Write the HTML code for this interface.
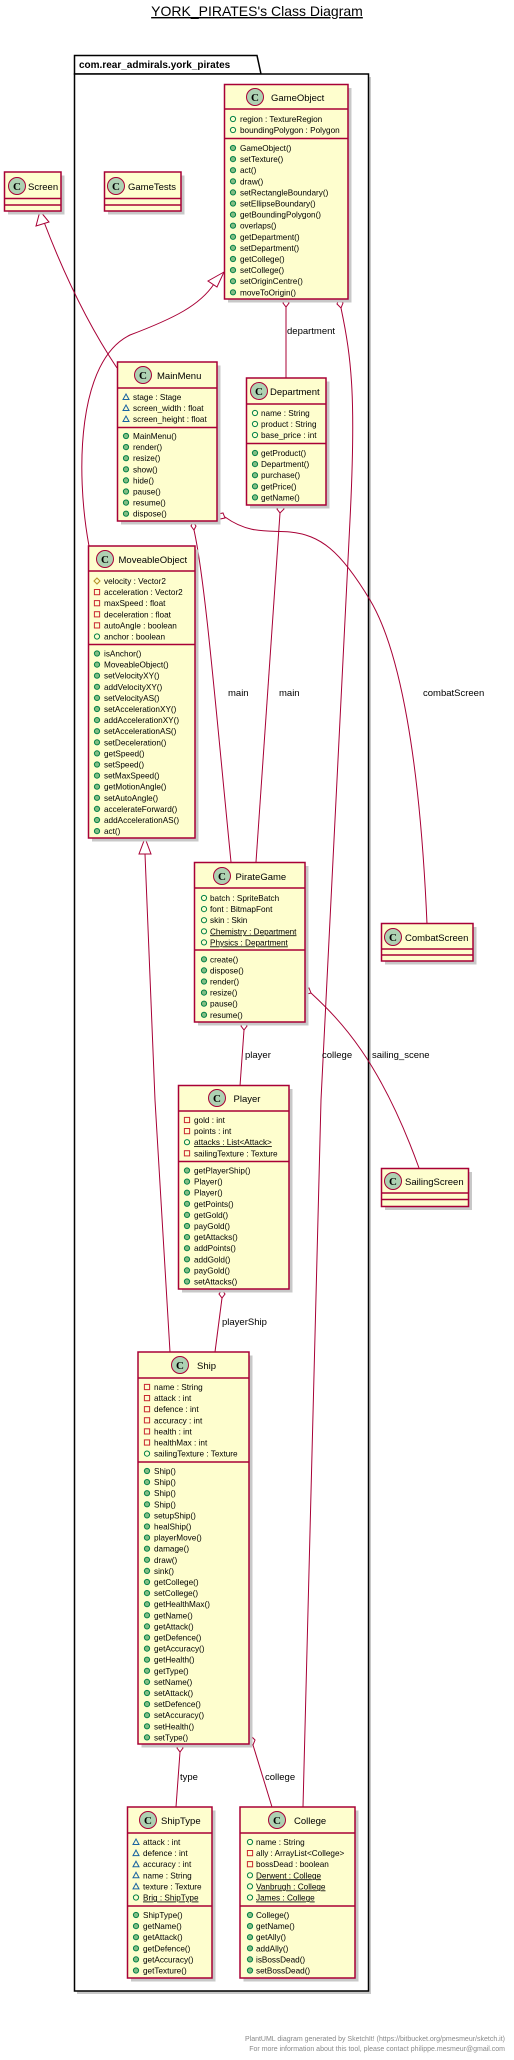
<!DOCTYPE html>
<html><head><meta charset="utf-8"><style>
html,body{margin:0;padding:0;background:#fff;}
svg{display:block;}
text{font-family:"Liberation Sans",sans-serif;fill:#000;}
.m{font-size:8.2px;}
.n{font-size:9.5px;}
.l{font-size:9.5px;}
.u{text-decoration:underline;}
.b{fill:#FEFECE;stroke:#A80036;stroke-width:1.5;}
.s{fill:#c8c8c8;}
.d{stroke:#A80036;stroke-width:1.5;}
.e{fill:none;stroke:#A80036;stroke-width:1;}
.ci{fill:#ADD1B2;stroke:#A80036;stroke-width:1;}
.ct{font-family:"Liberation Serif",serif;font-weight:bold;font-size:11px;}
</style></head><body>
<svg width="514" height="2060" viewBox="0 0 514 2060" xmlns="http://www.w3.org/2000/svg">
<defs>
<circle id="m" cx="0" cy="0" r="2.6" fill="#84BE84" stroke="#038048" stroke-width="1"/>
<circle id="pu" cx="0" cy="0" r="2.6" fill="none" stroke="#038048" stroke-width="1"/>
<rect id="pr" x="-2.6" y="-2.6" width="5.2" height="5.2" fill="none" stroke="#C82930" stroke-width="1"/>
<path id="pk" d="M0,-3 L3,2.5 L-3,2.5 Z" fill="none" stroke="#1963A0" stroke-width="1"/>
<path id="po" d="M0,-3 L3,0 L0,3 L-3,0 Z" fill="none" stroke="#B38D22" stroke-width="1"/>
</defs>

<text x="257" y="16" text-anchor="middle" style="font-size:14px;text-decoration:underline;">YORK_PIRATES's Class Diagram</text>

<!-- package -->
<rect x="77" y="77" width="294" height="1917" class="s"/>
<path d="M74.5,74 L74.5,55.5 L257,55.5 L261,74 Z" fill="#fff" stroke="#000" stroke-width="1.5"/>
<rect x="74.5" y="74" width="294" height="1917" fill="#fff" stroke="#000" stroke-width="1.5"/>
<text x="79" y="68" style="font-size:10px;font-weight:bold;">com.rear_admirals.york_pirates</text>

<!-- edges -->
<path class="e" d="M117,368 C95,335 70,290 44,222"/>
<path d="M40,211 L36,226 L49,222 Z" fill="#fff" stroke="#A80036"/>
<path class="e" d="M89,546 C75,470 78,360 130,335 C175,318 200,305 214,284"/>
<path d="M224,272 L208,281 L217,287 Z" fill="#fff" stroke="#A80036"/>
<path class="e" d="M286,307 L286,378"/>
<path d="M286,299 L289,303 L286,307 L283,303 Z" fill="#fff" stroke="#A80036"/>
<text x="287" y="334" class="l">department</text>
<path class="e" d="M341,308 C352,360 356,400 350,520 L321,1100 L303,1807"/>
<path d="M339,299 L343,303 L341,308 L337,304 Z" fill="#fff" stroke="#A80036"/>
<text x="322" y="1058" class="l">college</text>
<path class="e" d="M194,530 C205,580 215,700 231,862"/>
<path d="M193,522 L196,526 L194,530 L191,526 Z" fill="#fff" stroke="#A80036"/>
<text x="228" y="696" class="l">main</text>
<path class="e" d="M280,513 L256,862"/>
<path d="M281,505 L284,509 L280,513 L277,509 Z" fill="#fff" stroke="#A80036"/>
<text x="279" y="696" class="l">main</text>
<path class="e" d="M225,517 C250,535 270,530 290,532 C320,535 340,550 370,600 C400,650 420,760 427,924"/>
<path d="M218,514 L223,513 L225,518 L220,519 Z" fill="#fff" stroke="#A80036"/>
<text x="423" y="696" class="l">combatScreen</text>
<path class="e" d="M311,993 C340,1020 380,1060 419,1168"/>
<path d="M305,989 L309,988 L311,993 L307,994 Z" fill="#fff" stroke="#A80036"/>
<text x="372" y="1058" class="l">sailing_scene</text>
<path class="e" d="M244,1030 L240,1086"/>
<path d="M244,1022 L247,1026 L244,1030 L241,1026 Z" fill="#fff" stroke="#A80036"/>
<text x="245" y="1058" class="l">player</text>
<path class="e" d="M145,854 L155,1100 L170,1352"/>
<path d="M145,838 L139,854 L151,854 Z" fill="#fff" stroke="#A80036"/>
<path class="e" d="M222,1298 L215,1352"/>
<path d="M222,1290 L225,1294 L222,1298 L219,1294 Z" fill="#fff" stroke="#A80036"/>
<text x="222" y="1325" class="l">playerShip</text>
<path class="e" d="M180,1752 L176,1807"/>
<path d="M180,1744 L183,1748 L180,1752 L177,1748 Z" fill="#fff" stroke="#A80036"/>
<text x="180" y="1780" class="l">type</text>
<path class="e" d="M253,1745 L272,1807"/>
<path d="M251,1736 L255,1740 L253,1745 L249,1741 Z" fill="#fff" stroke="#A80036"/>
<text x="265" y="1780" class="l">college</text>

<!-- GameObject -->
<rect x="228" y="88" width="123.5" height="214.5" class="s"/>
<rect x="224.5" y="84.5" width="123.5" height="214.5" class="b"/>
<line x1="224.5" y1="109" x2="348" y2="109" class="d"/><line x1="224.5" y1="138.5" x2="348" y2="138.5" class="d"/>
<circle cx="255" cy="97" r="8.5" class="ci"/><text x="255" y="101" text-anchor="middle" class="ct">C</text>
<text x="271" y="101" class="n">GameObject</text>
<g class="m">
<use href="#pu" x="233" y="119"/><text x="240" y="122">region : TextureRegion</text>
<use href="#pu" x="233" y="130"/><text x="240" y="133">boundingPolygon : Polygon</text>
<use href="#m" x="233" y="148"/><text x="240" y="151">GameObject()</text>
<use href="#m" x="233" y="159.1"/><text x="240" y="162.1">setTexture()</text>
<use href="#m" x="233" y="170.2"/><text x="240" y="173.2">act()</text>
<use href="#m" x="233" y="181.3"/><text x="240" y="184.3">draw()</text>
<use href="#m" x="233" y="192.4"/><text x="240" y="195.4">setRectangleBoundary()</text>
<use href="#m" x="233" y="203.5"/><text x="240" y="206.5">setEllipseBoundary()</text>
<use href="#m" x="233" y="214.6"/><text x="240" y="217.6">getBoundingPolygon()</text>
<use href="#m" x="233" y="225.7"/><text x="240" y="228.7">overlaps()</text>
<use href="#m" x="233" y="236.8"/><text x="240" y="239.8">getDepartment()</text>
<use href="#m" x="233" y="247.9"/><text x="240" y="250.9">setDepartment()</text>
<use href="#m" x="233" y="259"/><text x="240" y="262">getCollege()</text>
<use href="#m" x="233" y="270.1"/><text x="240" y="273.1">setCollege()</text>
<use href="#m" x="233" y="281.2"/><text x="240" y="284.2">setOriginCentre()</text>
<use href="#m" x="233" y="292.3"/><text x="240" y="295.3">moveToOrigin()</text>
</g>

<!-- Screen -->
<rect x="8" y="175.5" width="56.5" height="39" class="s"/>
<rect x="4.5" y="172" width="56.5" height="39" class="b"/>
<line x1="4.5" y1="198.5" x2="61" y2="198.5" class="d"/><line x1="4.5" y1="205" x2="61" y2="205" class="d"/>
<circle cx="17" cy="186" r="8.5" class="ci"/><text x="17" y="190" text-anchor="middle" class="ct">C</text>
<text x="28" y="190" class="n">Screen</text>

<!-- GameTests -->
<rect x="108" y="175.5" width="76.5" height="39" class="s"/>
<rect x="104.5" y="172" width="76.5" height="39" class="b"/>
<line x1="104.5" y1="198.5" x2="181" y2="198.5" class="d"/><line x1="104.5" y1="205" x2="181" y2="205" class="d"/>
<circle cx="116" cy="186" r="8.5" class="ci"/><text x="116" y="190" text-anchor="middle" class="ct">C</text>
<text x="128" y="190" class="n">GameTests</text>

<!-- MainMenu -->
<rect x="121" y="365.5" width="99.5" height="159" class="s"/>
<rect x="117.5" y="362" width="99.5" height="159" class="b"/>
<line x1="117.5" y1="388" x2="217" y2="388" class="d"/><line x1="117.5" y1="427.5" x2="217" y2="427.5" class="d"/>
<circle cx="143" cy="375" r="8.5" class="ci"/><text x="143" y="379" text-anchor="middle" class="ct">C</text>
<text x="157" y="379" class="n">MainMenu</text>
<g class="m">
<use href="#pk" x="126" y="397"/><text x="133" y="400">stage : Stage</text>
<use href="#pk" x="126" y="408"/><text x="133" y="411">screen_width : float</text>
<use href="#pk" x="126" y="419"/><text x="133" y="422">screen_height : float</text>
<use href="#m" x="126" y="436"/><text x="133" y="439">MainMenu()</text>
<use href="#m" x="126" y="447.1"/><text x="133" y="450.1">render()</text>
<use href="#m" x="126" y="458.2"/><text x="133" y="461.2">resize()</text>
<use href="#m" x="126" y="469.3"/><text x="133" y="472.3">show()</text>
<use href="#m" x="126" y="480.4"/><text x="133" y="483.4">hide()</text>
<use href="#m" x="126" y="491.5"/><text x="133" y="494.5">pause()</text>
<use href="#m" x="126" y="502.6"/><text x="133" y="505.6">resume()</text>
<use href="#m" x="126" y="513.7"/><text x="133" y="516.7">dispose()</text>
</g>

<!-- Department -->
<rect x="250" y="381.5" width="79.5" height="127" class="s"/>
<rect x="246.5" y="378" width="79.5" height="127" class="b"/>
<line x1="246.5" y1="404" x2="326" y2="404" class="d"/><line x1="246.5" y1="443.5" x2="326" y2="443.5" class="d"/>
<circle cx="259" cy="391" r="8.5" class="ci"/><text x="259" y="395" text-anchor="middle" class="ct">C</text>
<text x="270" y="395" class="n">Department</text>
<g class="m">
<use href="#pu" x="255" y="413"/><text x="261" y="416">name : String</text>
<use href="#pu" x="255" y="424"/><text x="261" y="427">product : String</text>
<use href="#pu" x="255" y="435"/><text x="261" y="438">base_price : int</text>
<use href="#m" x="255" y="453"/><text x="261" y="456">getProduct()</text>
<use href="#m" x="255" y="464.1"/><text x="261" y="467.1">Department()</text>
<use href="#m" x="255" y="475.2"/><text x="261" y="478.2">purchase()</text>
<use href="#m" x="255" y="486.3"/><text x="261" y="489.3">getPrice()</text>
<use href="#m" x="255" y="497.4"/><text x="261" y="500.4">getName()</text>
</g>

<!-- MoveableObject -->
<rect x="92" y="549.5" width="106.5" height="292" class="s"/>
<rect x="88.5" y="546" width="106.5" height="292" class="b"/>
<line x1="88.5" y1="571" x2="195" y2="571" class="d"/><line x1="88.5" y1="644.5" x2="195" y2="644.5" class="d"/>
<circle cx="105" cy="559" r="8.5" class="ci"/><text x="105" y="563" text-anchor="middle" class="ct">C</text>
<text x="118.5" y="563" class="n">MoveableObject</text>
<g class="m">
<use href="#po" x="97" y="581"/><text x="104" y="584">velocity : Vector2</text>
<use href="#pr" x="97" y="592.1"/><text x="104" y="595.1">acceleration : Vector2</text>
<use href="#pr" x="97" y="603.2"/><text x="104" y="606.2">maxSpeed : float</text>
<use href="#pr" x="97" y="614.3"/><text x="104" y="617.3">deceleration : float</text>
<use href="#pr" x="97" y="625.4"/><text x="104" y="628.4">autoAngle : boolean</text>
<use href="#pu" x="97" y="636.5"/><text x="104" y="639.5">anchor : boolean</text>
<use href="#m" x="97" y="653.5"/><text x="104" y="656.5">isAnchor()</text>
<use href="#m" x="97" y="664.6"/><text x="104" y="667.6">MoveableObject()</text>
<use href="#m" x="97" y="675.7"/><text x="104" y="678.7">setVelocityXY()</text>
<use href="#m" x="97" y="686.8"/><text x="104" y="689.8">addVelocityXY()</text>
<use href="#m" x="97" y="697.9"/><text x="104" y="700.9">setVelocityAS()</text>
<use href="#m" x="97" y="709"/><text x="104" y="712">setAccelerationXY()</text>
<use href="#m" x="97" y="720.1"/><text x="104" y="723.1">addAccelerationXY()</text>
<use href="#m" x="97" y="731.2"/><text x="104" y="734.2">setAccelerationAS()</text>
<use href="#m" x="97" y="742.3"/><text x="104" y="745.3">setDeceleration()</text>
<use href="#m" x="97" y="753.4"/><text x="104" y="756.4">getSpeed()</text>
<use href="#m" x="97" y="764.5"/><text x="104" y="767.5">setSpeed()</text>
<use href="#m" x="97" y="775.6"/><text x="104" y="778.6">setMaxSpeed()</text>
<use href="#m" x="97" y="786.7"/><text x="104" y="789.7">getMotionAngle()</text>
<use href="#m" x="97" y="797.8"/><text x="104" y="800.8">setAutoAngle()</text>
<use href="#m" x="97" y="808.9"/><text x="104" y="811.9">accelerateForward()</text>
<use href="#m" x="97" y="820"/><text x="104" y="823">addAccelerationAS()</text>
<use href="#m" x="97" y="831.1"/><text x="104" y="834.1">act()</text>
</g>

<!-- PirateGame -->
<rect x="198" y="866" width="110.5" height="159.5" class="s"/>
<rect x="194.5" y="862.5" width="110.5" height="159.5" class="b"/>
<line x1="194.5" y1="888" x2="305" y2="888" class="d"/><line x1="194.5" y1="950" x2="305" y2="950" class="d"/>
<circle cx="222" cy="876" r="8.5" class="ci"/><text x="222" y="880" text-anchor="middle" class="ct">C</text>
<text x="235.5" y="880" class="n">PirateGame</text>
<g class="m">
<use href="#pu" x="204" y="898"/><text x="210" y="901">batch : SpriteBatch</text>
<use href="#pu" x="204" y="909.1"/><text x="210" y="912.1">font : BitmapFont</text>
<use href="#pu" x="204" y="920.2"/><text x="210" y="923.2">skin : Skin</text>
<use href="#pu" x="204" y="931.3"/><text x="210" y="934.3" class="u">Chemistry : Department</text>
<use href="#pu" x="204" y="942.4"/><text x="210" y="945.4" class="u">Physics : Department</text>
<use href="#m" x="204" y="959.3"/><text x="210" y="962.3">create()</text>
<use href="#m" x="204" y="970.4"/><text x="210" y="973.4">dispose()</text>
<use href="#m" x="204" y="981.5"/><text x="210" y="984.5">render()</text>
<use href="#m" x="204" y="992.6"/><text x="210" y="995.6">resize()</text>
<use href="#m" x="204" y="1003.7"/><text x="210" y="1006.7">pause()</text>
<use href="#m" x="204" y="1014.8"/><text x="210" y="1017.8">resume()</text>
</g>

<!-- CombatScreen -->
<rect x="385" y="927" width="91.5" height="37.5" class="s"/>
<rect x="381.5" y="923.5" width="91.5" height="37.5" class="b"/>
<line x1="381.5" y1="949" x2="473" y2="949" class="d"/><line x1="381.5" y1="955" x2="473" y2="955" class="d"/>
<circle cx="393" cy="937" r="8.5" class="ci"/><text x="393" y="941" text-anchor="middle" class="ct">C</text>
<text x="405" y="941" class="n">CombatScreen</text>

<!-- SailingScreen -->
<rect x="385" y="1172" width="87" height="38" class="s"/>
<rect x="381.5" y="1168.5" width="87" height="38" class="b"/>
<line x1="381.5" y1="1193" x2="468.5" y2="1193" class="d"/><line x1="381.5" y1="1199.5" x2="468.5" y2="1199.5" class="d"/>
<circle cx="393" cy="1181" r="8.5" class="ci"/><text x="393" y="1185" text-anchor="middle" class="ct">C</text>
<text x="405" y="1185" class="n">SailingScreen</text>

<!-- Player -->
<rect x="182" y="1089" width="110.5" height="203.5" class="s"/>
<rect x="178.5" y="1085.5" width="110.5" height="203.5" class="b"/>
<line x1="178.5" y1="1111" x2="289" y2="1111" class="d"/><line x1="178.5" y1="1161.5" x2="289" y2="1161.5" class="d"/>
<circle cx="217" cy="1098" r="8.5" class="ci"/><text x="217" y="1102" text-anchor="middle" class="ct">C</text>
<text x="233.5" y="1102" class="n">Player</text>
<g class="m">
<use href="#pr" x="187" y="1120"/><text x="194" y="1123">gold : int</text>
<use href="#pr" x="187" y="1131.1"/><text x="194" y="1134.1">points : int</text>
<use href="#pu" x="187" y="1142.2"/><text x="194" y="1145.2" class="u">attacks : List&lt;Attack&gt;</text>
<use href="#pr" x="187" y="1153.3"/><text x="194" y="1156.3">sailingTexture : Texture</text>
<use href="#m" x="187" y="1170.5"/><text x="194" y="1173.5">getPlayerShip()</text>
<use href="#m" x="187" y="1181.6"/><text x="194" y="1184.6">Player()</text>
<use href="#m" x="187" y="1192.7"/><text x="194" y="1195.7">Player()</text>
<use href="#m" x="187" y="1203.8"/><text x="194" y="1206.8">getPoints()</text>
<use href="#m" x="187" y="1214.9"/><text x="194" y="1217.9">getGold()</text>
<use href="#m" x="187" y="1226"/><text x="194" y="1229">payGold()</text>
<use href="#m" x="187" y="1237.1"/><text x="194" y="1240.1">getAttacks()</text>
<use href="#m" x="187" y="1248.2"/><text x="194" y="1251.2">addPoints()</text>
<use href="#m" x="187" y="1259.3"/><text x="194" y="1262.3">addGold()</text>
<use href="#m" x="187" y="1270.4"/><text x="194" y="1273.4">payGold()</text>
<use href="#m" x="187" y="1281.5"/><text x="194" y="1284.5">setAttacks()</text>
</g>

<!-- Ship -->
<rect x="141.5" y="1355.5" width="111" height="392" class="s"/>
<rect x="138" y="1352" width="111" height="392" class="b"/>
<line x1="138" y1="1378" x2="249" y2="1378" class="d"/><line x1="138" y1="1462" x2="249" y2="1462" class="d"/>
<circle cx="180" cy="1365" r="8.5" class="ci"/><text x="180" y="1369" text-anchor="middle" class="ct">C</text>
<text x="197" y="1369" class="n">Ship</text>
<g class="m">
<use href="#pr" x="147" y="1387"/><text x="154" y="1390">name : String</text>
<use href="#pr" x="147" y="1398.1"/><text x="154" y="1401.1">attack : int</text>
<use href="#pr" x="147" y="1409.2"/><text x="154" y="1412.2">defence : int</text>
<use href="#pr" x="147" y="1420.3"/><text x="154" y="1423.3">accuracy : int</text>
<use href="#pr" x="147" y="1431.4"/><text x="154" y="1434.4">health : int</text>
<use href="#pr" x="147" y="1442.5"/><text x="154" y="1445.5">healthMax : int</text>
<use href="#pu" x="147" y="1453.6"/><text x="154" y="1456.6">sailingTexture : Texture</text>
<use href="#m" x="147" y="1471"/><text x="154" y="1474">Ship()</text>
<use href="#m" x="147" y="1482.1"/><text x="154" y="1485.1">Ship()</text>
<use href="#m" x="147" y="1493.2"/><text x="154" y="1496.2">Ship()</text>
<use href="#m" x="147" y="1504.3"/><text x="154" y="1507.3">Ship()</text>
<use href="#m" x="147" y="1515.4"/><text x="154" y="1518.4">setupShip()</text>
<use href="#m" x="147" y="1526.5"/><text x="154" y="1529.5">healShip()</text>
<use href="#m" x="147" y="1537.6"/><text x="154" y="1540.6">playerMove()</text>
<use href="#m" x="147" y="1548.7"/><text x="154" y="1551.7">damage()</text>
<use href="#m" x="147" y="1559.8"/><text x="154" y="1562.8">draw()</text>
<use href="#m" x="147" y="1570.9"/><text x="154" y="1573.9">sink()</text>
<use href="#m" x="147" y="1582"/><text x="154" y="1585">getCollege()</text>
<use href="#m" x="147" y="1593.1"/><text x="154" y="1596.1">setCollege()</text>
<use href="#m" x="147" y="1604.2"/><text x="154" y="1607.2">getHealthMax()</text>
<use href="#m" x="147" y="1615.3"/><text x="154" y="1618.3">getName()</text>
<use href="#m" x="147" y="1626.4"/><text x="154" y="1629.4">getAttack()</text>
<use href="#m" x="147" y="1637.5"/><text x="154" y="1640.5">getDefence()</text>
<use href="#m" x="147" y="1648.6"/><text x="154" y="1651.6">getAccuracy()</text>
<use href="#m" x="147" y="1659.7"/><text x="154" y="1662.7">getHealth()</text>
<use href="#m" x="147" y="1670.8"/><text x="154" y="1673.8">getType()</text>
<use href="#m" x="147" y="1681.9"/><text x="154" y="1684.9">setName()</text>
<use href="#m" x="147" y="1693"/><text x="154" y="1696">setAttack()</text>
<use href="#m" x="147" y="1704.1"/><text x="154" y="1707.1">setDefence()</text>
<use href="#m" x="147" y="1715.2"/><text x="154" y="1718.2">setAccuracy()</text>
<use href="#m" x="147" y="1726.3"/><text x="154" y="1729.3">setHealth()</text>
<use href="#m" x="147" y="1737.4"/><text x="154" y="1740.4">setType()</text>
</g>

<!-- ShipType -->
<rect x="131" y="1810.5" width="84.5" height="171" class="s"/>
<rect x="127.5" y="1807" width="84.5" height="171" class="b"/>
<line x1="127.5" y1="1833" x2="212" y2="1833" class="d"/><line x1="127.5" y1="1906" x2="212" y2="1906" class="d"/>
<circle cx="148" cy="1820" r="8.5" class="ci"/><text x="148" y="1824" text-anchor="middle" class="ct">C</text>
<text x="161" y="1824" class="n">ShipType</text>
<g class="m">
<use href="#pk" x="136" y="1842"/><text x="143" y="1845">attack : int</text>
<use href="#pk" x="136" y="1853.1"/><text x="143" y="1856.1">defence : int</text>
<use href="#pk" x="136" y="1864.2"/><text x="143" y="1867.2">accuracy : int</text>
<use href="#pk" x="136" y="1875.3"/><text x="143" y="1878.3">name : String</text>
<use href="#pk" x="136" y="1886.4"/><text x="143" y="1889.4">texture : Texture</text>
<use href="#pu" x="136" y="1897.5"/><text x="143" y="1900.5" class="u">Brig : ShipType</text>
<use href="#m" x="136" y="1915"/><text x="143" y="1918">ShipType()</text>
<use href="#m" x="136" y="1926.1"/><text x="143" y="1929.1">getName()</text>
<use href="#m" x="136" y="1937.2"/><text x="143" y="1940.2">getAttack()</text>
<use href="#m" x="136" y="1948.3"/><text x="143" y="1951.3">getDefence()</text>
<use href="#m" x="136" y="1959.4"/><text x="143" y="1962.4">getAccuracy()</text>
<use href="#m" x="136" y="1970.5"/><text x="143" y="1973.5">getTexture()</text>
</g>

<!-- College -->
<rect x="243.5" y="1810.5" width="115" height="171" class="s"/>
<rect x="240" y="1807" width="115" height="171" class="b"/>
<line x1="240" y1="1833" x2="355" y2="1833" class="d"/><line x1="240" y1="1906" x2="355" y2="1906" class="d"/>
<circle cx="277" cy="1820" r="8.5" class="ci"/><text x="277" y="1824" text-anchor="middle" class="ct">C</text>
<text x="294" y="1824" class="n">College</text>
<g class="m">
<use href="#pu" x="250" y="1842"/><text x="256" y="1845">name : String</text>
<use href="#pr" x="250" y="1853.1"/><text x="256" y="1856.1">ally : ArrayList&lt;College&gt;</text>
<use href="#pr" x="250" y="1864.2"/><text x="256" y="1867.2">bossDead : boolean</text>
<use href="#pu" x="250" y="1875.3"/><text x="256" y="1878.3" class="u">Derwent : College</text>
<use href="#pu" x="250" y="1886.4"/><text x="256" y="1889.4" class="u">Vanbrugh : College</text>
<use href="#pu" x="250" y="1897.5"/><text x="256" y="1900.5" class="u">James : College</text>
<use href="#m" x="250" y="1915"/><text x="256" y="1918">College()</text>
<use href="#m" x="250" y="1926.1"/><text x="256" y="1929.1">getName()</text>
<use href="#m" x="250" y="1937.2"/><text x="256" y="1940.2">getAlly()</text>
<use href="#m" x="250" y="1948.3"/><text x="256" y="1951.3">addAlly()</text>
<use href="#m" x="250" y="1959.4"/><text x="256" y="1962.4">isBossDead()</text>
<use href="#m" x="250" y="1970.5"/><text x="256" y="1973.5">setBossDead()</text>
</g>

<text x="505" y="2041" text-anchor="end" style="font-size:7px;fill:#888;">PlantUML diagram generated by SketchIt! (https://bitbucket.org/pmesmeur/sketch.it)</text>
<text x="505" y="2051" text-anchor="end" style="font-size:7px;fill:#888;">For more information about this tool, please contact philippe.mesmeur@gmail.com</text>
</svg>
</body></html>
